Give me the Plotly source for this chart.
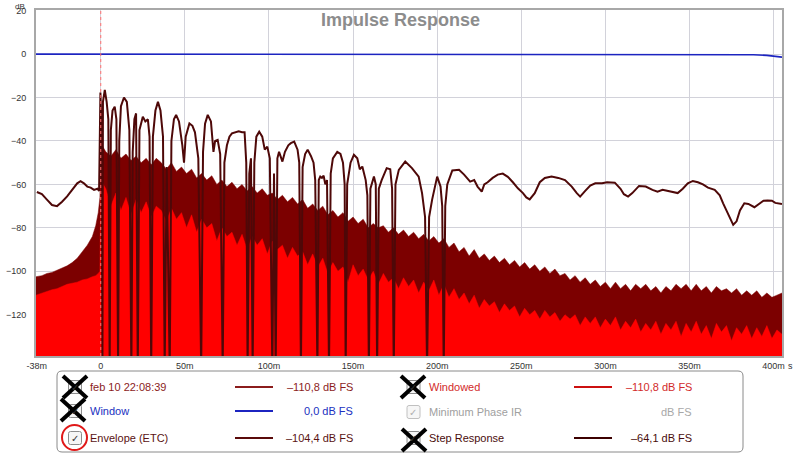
import plotly.graph_objects as go

# --- data (time in ms, level in dB) ---

x_ticks = [-38, 0, 50, 100, 150, 200, 250, 300, 350, 400]
x_ticktext = ["-38m", "0", "50m", "100m", "150m", "200m", "250m", "300m", "350m", "400m"]
y_ticks = [20, 0, -20, -40, -60, -80, -100, -120]

# Envelope (ETC) line
etc_t = [-38, -35, -32, -29, -26, -23, -20, -17, -14, -12, -10, -8, -6, -4, -2, -1,
         -0.4, -0.2, 0.3, 0.6, 1.0, 1.3, 2.4, 3.5, 4.5, 5.3, 6, 7, 8.3, 9.3, 10.3, 11,
         12, 13.8, 15.5, 17, 18.2, 19, 20, 21, 22, 23, 25, 26.5, 28, 29, 30, 31, 32.5,
         34, 35.5, 37, 38, 39.2, 41, 42, 43.5, 44.8, 46.5, 48.5, 49.5, 50.5, 52.7, 54.5,
         56, 58, 59.7, 60.8, 62, 63.6, 65.5, 67, 68, 69.5, 71, 72.5, 73.5, 75, 76.5, 78,
         80, 82, 84, 85.5, 86.5, 87.3, 88.3, 89.3, 90.3, 91.3, 92.5, 94.2, 96, 97.5, 99,
         100.5, 102, 103, 104, 105, 106, 107, 108, 109.5, 111.5, 113, 115, 117, 118, 119,
         120, 121.5, 123, 125, 126.5, 127.5, 128.8, 129.6, 130.5, 131.5, 132.5, 133.5,
         134.5, 135.7, 136.7, 138, 140.6, 142.5, 144, 145, 145.6, 146.5, 148.5, 150.5,
         152.5, 154, 155.5, 157.5, 158.5, 159.4, 160.3, 162.4, 163.5, 164.3, 165.3, 167,
         170, 172.1, 173.2, 174.2, 175.2, 177.2, 181, 185, 189, 191, 192.8, 194, 195.2,
         197, 200, 202, 203, 203.9, 204.8, 206, 209, 213, 216, 219.6, 222, 224, 226.5,
         228, 230, 233, 236, 239, 242, 245, 248, 251, 253, 255, 258, 261, 264, 268, 272,
         276, 280, 283, 285, 288, 291, 294, 298, 301, 305.6, 309, 311, 313.5, 316, 320,
         324, 328, 331, 334, 337, 340, 343, 346, 349, 352, 355, 358, 361, 365, 368, 370,
         373, 376, 378, 380, 382.6, 385, 388.6, 391, 394, 396.4, 399, 401, 403.4, 405]
etc_db = [-63.5, -64.5, -67, -69.5, -70, -68, -65.5, -62.5, -59.5, -58.5, -59.5, -61,
          -61.5, -62.5, -62, -63, -40, -17.7, -30, -145, -145, -22, -16.5, -22, -30, -145,
          -35, -26, -24.2, -30, -145, -40, -24, -20, -22, -35, -145, -45, -30, -27.3, -145,
          -35, -28.8, -31, -30, -38, -145, -38, -26, -22, -26, -38, -145, -52, -145, -40,
          -30, -28, -31, -42, -50, -38, -31.9, -33, -36, -48, -145, -45, -32, -28, -31,
          -45, -40, -39.5, -46, -145, -50, -42, -38, -36.5, -36, -35.5, -36, -36, -50,
          -145, -55, -48, -145, -50, -38, -35.7, -38, -44, -42.6, -48, -145, -55, -145,
          -48, -45, -47, -49.5, -45, -42, -41, -40.3, -44, -50, -145, -52, -46, -44, -47,
          -50, -58, -145, -58, -56.4, -57, -56, -60, -58, -145, -55, -48, -45, -46, -50,
          -60, -145, -60, -50, -46.4, -48, -53, -51.8, -58, -65, -145, -62, -56.4, -60,
          -145, -62, -58, -52.5, -53, -62, -145, -60, -53.3, -49.5, -52.5, -56.4, -64, -75,
          -145, -75, -67, -56.4, -61, -70, -145, -70, -60, -53.6, -53.3, -55.5, -58.7, -58,
          -61, -63.3, -60, -59, -57, -55.5, -55, -56.5, -59, -61.8, -64, -66, -66.9, -64,
          -59, -57, -56.4, -57, -58, -61, -64, -65.6, -63, -60.5, -59.5, -59.5, -59, -59.2,
          -62, -64.5, -65.6, -64, -60.7, -61, -62.5, -63.3, -62.5, -63, -63.5, -64, -62,
          -59.5, -58.4, -59, -60, -61.5, -62.5, -65, -68.7, -74, -78.6, -77, -72, -68.7,
          -69, -70.5, -69, -67.5, -67.4, -67.5, -68.5, -69, -69]

# measurement (dark red fill) upper edge and windowed IR (bright red fill) upper edge
pre_t = [-38.5, -35, -32, -29, -26, -23, -20, -17, -14, -11, -8, -5, -3, -1.5, -0.5]
meas_pre = [-102.5, -102, -101, -100.5, -99.5, -98.5, -97.5, -96, -94, -91, -88, -84,
            -79, -73, -66]
wind_pre = [-111, -110, -109.5, -108.5, -108, -107, -106, -105.5, -105, -104, -103.5,
            -102.5, -102, -101, -100]

# sampled every 3 ms from 0 ms
meas_post = [-41, -45, -47, -44, -48, -46, -49, -47, -50, -48, -51, -48, -50, -53, -50,
             -54, -52, -55, -53, -57, -55, -58, -56, -60, -58, -61, -59, -62, -60, -63,
             -61, -64, -62, -65, -64, -67, -65, -68, -66, -69, -67, -71, -69, -72, -70,
             -74, -72, -75, -73, -77, -75, -78, -76, -80, -78, -80, -79, -82, -80, -83,
             -81, -84, -82, -85, -83, -86, -84, -87, -85, -89, -87, -91, -89, -93, -90,
             -94, -92, -95, -93, -96, -94, -97, -95, -98, -96, -99, -97, -100, -98, -101,
             -99, -102, -101, -104, -102, -105, -103, -106, -104, -107, -105, -108, -105,
             -108, -106, -109, -106, -108, -106, -109, -107, -110, -107, -109, -106, -108,
             -106, -109, -106, -109, -107, -110, -107, -109, -108, -110, -108, -111, -109,
             -111, -109, -112, -110, -112, -111, -110]
wind_post = [-58, -62, -70, -64, -72, -66, -74, -67, -73, -68, -75, -70, -72, -77, -71,
             -76, -73, -80, -74, -82, -76, -80, -78, -86, -80, -84, -82, -88, -83, -90,
             -84, -88, -85, -92, -86, -90, -88, -94, -89, -93, -91, -97, -92, -98, -94,
             -101, -96, -100, -98, -105, -97, -102, -99, -104, -100, -106, -101, -105,
             -103, -108, -103, -107, -104, -110, -105, -109, -104, -111, -106, -112, -108,
             -113, -110, -115, -111, -117, -113, -116, -114, -119, -115, -118, -116, -121,
             -117, -120, -118, -122, -118, -121, -119, -123, -120, -122, -120, -125, -121,
             -124, -121, -126, -122, -125, -121, -127, -123, -126, -122, -128, -124, -127,
             -123, -129, -124, -127, -123, -130, -124, -128, -123, -129, -125, -131, -124,
             -128, -125, -132, -126, -129, -125, -131, -126, -130, -125, -131, -127, -129]
post_t = [3 * i for i in range(len(meas_post))]

# window (blue)
win_t = [-38.5, 370, 380, 388, 396, 400, 405]
win_db = [0, 0, -0.1, -0.3, -0.6, -0.9, -1.4]

# --- pixel helpers (plot area spans px 36..782, py 10..356) ---
L, R, T, B = 36, 782, 10, 356
W, H = 800, 454


def X(px):
    return (px - L) / (R - L)


def Y(py):
    return (B - py) / (B - T)


def rrect(x0, y0, x1, y1, r):
    return (f"M {X(x0 + r)},{Y(y0)} L {X(x1 - r)},{Y(y0)} Q {X(x1)},{Y(y0)} {X(x1)},{Y(y0 + r)} "
            f"L {X(x1)},{Y(y1 - r)} Q {X(x1)},{Y(y1)} {X(x1 - r)},{Y(y1)} "
            f"L {X(x0 + r)},{Y(y1)} Q {X(x0)},{Y(y1)} {X(x0)},{Y(y1 - r)} "
            f"L {X(x0)},{Y(y0 + r)} Q {X(x0)},{Y(y0)} {X(x0 + r)},{Y(y0)} Z")


FONT = "Liberation Sans"
t_end = post_t[-1]

fig = go.Figure()

# dark red measurement fill
fig.add_trace(go.Scatter(x=[-38.5, t_end], y=[-150, -150], mode="lines",
                         line=dict(width=0), hoverinfo="skip"))
fig.add_trace(go.Scatter(x=pre_t + post_t, y=meas_pre + meas_post, mode="lines",
                         line=dict(color="#7c0000", width=0.5), fill="tonexty",
                         fillcolor="#7c0000"))
# bright red windowed fill
fig.add_trace(go.Scatter(x=[-38.5, t_end], y=[-150, -150], mode="lines",
                         line=dict(width=0), hoverinfo="skip"))
fig.add_trace(go.Scatter(x=pre_t + post_t, y=wind_pre + wind_post, mode="lines",
                         line=dict(color="#ff0000", width=0.5), fill="tonexty",
                         fillcolor="#ff0000"))
# envelope
fig.add_trace(go.Scatter(x=etc_t, y=etc_db, mode="lines",
                         line=dict(color="#4e0808", width=2)))
# window
fig.add_trace(go.Scatter(x=win_t, y=win_db, mode="lines",
                         line=dict(color="#1c24c0", width=1.6)))

shapes = []
# t=0 marker
shapes.append(dict(type="line", xref="x", yref="paper", x0=0, x1=0, y0=0, y1=1,
                   line=dict(color="#ff7070", width=1, dash="dot"), layer="above"))

# legend box
shapes.append(dict(type="path", xref="paper", yref="paper", path=rrect(57, 371, 743, 452, 5),
                   line=dict(color="#8a8a8a", width=1), fillcolor="white"))

annotations = []

# title, units
annotations.append(dict(text="<b>Impulse Response</b>", x=X(400), y=Y(20), xref="paper",
                        yref="paper", showarrow=False, xanchor="center", yanchor="middle",
                        font=dict(family=FONT, size=18, color="#8c8c8c")))
annotations.append(dict(text="dB", x=X(20), y=Y(0), xref="paper", yref="paper",
                        showarrow=False, xanchor="center", yanchor="top",
                        font=dict(family=FONT, size=8, color="#333333")))
annotations.append(dict(text="s", x=X(790), y=Y(366), xref="paper", yref="paper",
                        showarrow=False, xanchor="center", yanchor="middle",
                        font=dict(family=FONT, size=9, color="#333333")))

# legend rows: (row y, col, label, label colour, line colour, value, value colour)
rows = [
    (387, 0, "feb 10 22:08:39", "#8b1c1c", "#8b1c1c", "\u2013110,8 dB FS", "#8b1c1c"),
    (411, 0, "Window", "#2030c0", "#1c24c0", "0,0 dB FS", "#2030c0"),
    (438, 0, "Envelope (ETC)", "#5a1212", "#5a0a0a", "\u2013104,4 dB FS", "#5a1212"),
    (387, 1, "Windowed", "#d22a2a", "#cc1010", "\u2013110,8 dB FS", "#d22a2a"),
    (412, 1, "Minimum Phase IR", "#a0a0a0", None, "dB FS", "#a8a8a8"),
    (438, 1, "Step Response", "#4a0c0c", "#3c0000", "\u201364,1 dB FS", "#4a0c0c"),
]
col_box = [75, 413.5]
col_text = [88, 427]
col_line = [(235, 273), (574, 612)]
col_val = [355, 694]

for ry, c, lab, lc, linec, val, vc in rows:
    bx = col_box[c]
    grey = lab == "Minimum Phase IR"
    shapes.append(dict(type="path", xref="paper", yref="paper",
                       path=rrect(bx - 6.5, ry - 6.5, bx + 6.5, ry + 6.5, 2),
                       line=dict(color="#c0c0c0" if grey else "#8c8c8c", width=1),
                       fillcolor="#f6f6f6"))
    annotations.append(dict(text="\u2713", x=X(bx), y=Y(ry), xref="paper", yref="paper",
                            showarrow=False, xanchor="center", yanchor="middle",
                            font=dict(family="DejaVu Sans", size=10,
                                      color="#b0b0b0" if grey else "#333333")))
    annotations.append(dict(text=lab, x=X(col_text[c]), y=Y(ry), xref="paper", yref="paper",
                            showarrow=False, xanchor="left", yanchor="middle",
                            font=dict(family=FONT, size=11, color=lc)))
    annotations.append(dict(text=val, x=X(col_val[c]), y=Y(ry), xref="paper", yref="paper",
                            showarrow=False, xanchor="right", yanchor="middle",
                            font=dict(family=FONT, size=11, color=vc)))
    if linec:
        x0, x1 = col_line[c]
        shapes.append(dict(type="line", xref="paper", yref="paper", x0=X(x0), x1=X(x1),
                           y0=Y(ry), y1=Y(ry), line=dict(color=linec, width=2)))

# hand-drawn crosses over the hidden traces
for cx, cy in [(75, 387), (73, 410), (413, 387), (414, 440)]:
    for dx in (-1, 1):
        shapes.append(dict(type="line", xref="paper", yref="paper",
                           x0=X(cx - 12 * dx), x1=X(cx + 12 * dx),
                           y0=Y(cy - 11), y1=Y(cy + 11),
                           line=dict(color="black", width=4)))
# red circle round the Envelope checkbox
shapes.append(dict(type="circle", xref="paper", yref="paper", x0=X(62), x1=X(87),
                   y0=Y(450), y1=Y(425), line=dict(color="#e01818", width=2)))

fig.update_layout(
    width=W, height=H,
    margin=dict(l=L, r=W - R, t=T, b=H - B),
    paper_bgcolor="white", plot_bgcolor="white",
    showlegend=False,
    shapes=shapes, annotations=annotations,
    xaxis=dict(range=[-38.5, 405], tickvals=x_ticks, ticktext=x_ticktext,
               automargin=False,
               showgrid=True, gridcolor="#d2d2da", gridwidth=1, zeroline=False,
               showline=True, linecolor="#a8a8a8", linewidth=2, mirror=True,
               ticks="", tickfont=dict(family=FONT, size=9, color="#333333")),
    yaxis=dict(range=[-139, 20.3], tickvals=y_ticks, automargin=False,
               showgrid=True, gridcolor="#d2d2da", gridwidth=1, zeroline=False,
               showline=True, linecolor="#a8a8a8", linewidth=2, mirror=True,
               ticks="", ticklabelstandoff=6,
               tickfont=dict(family=FONT, size=9, color="#333333")),
)

# the page's default body margin would push the figure 8px off the 800x454 window
fig.write_html("out.html", config={"displayModeBar": False},
               post_script="document.body.style.margin='0';")
